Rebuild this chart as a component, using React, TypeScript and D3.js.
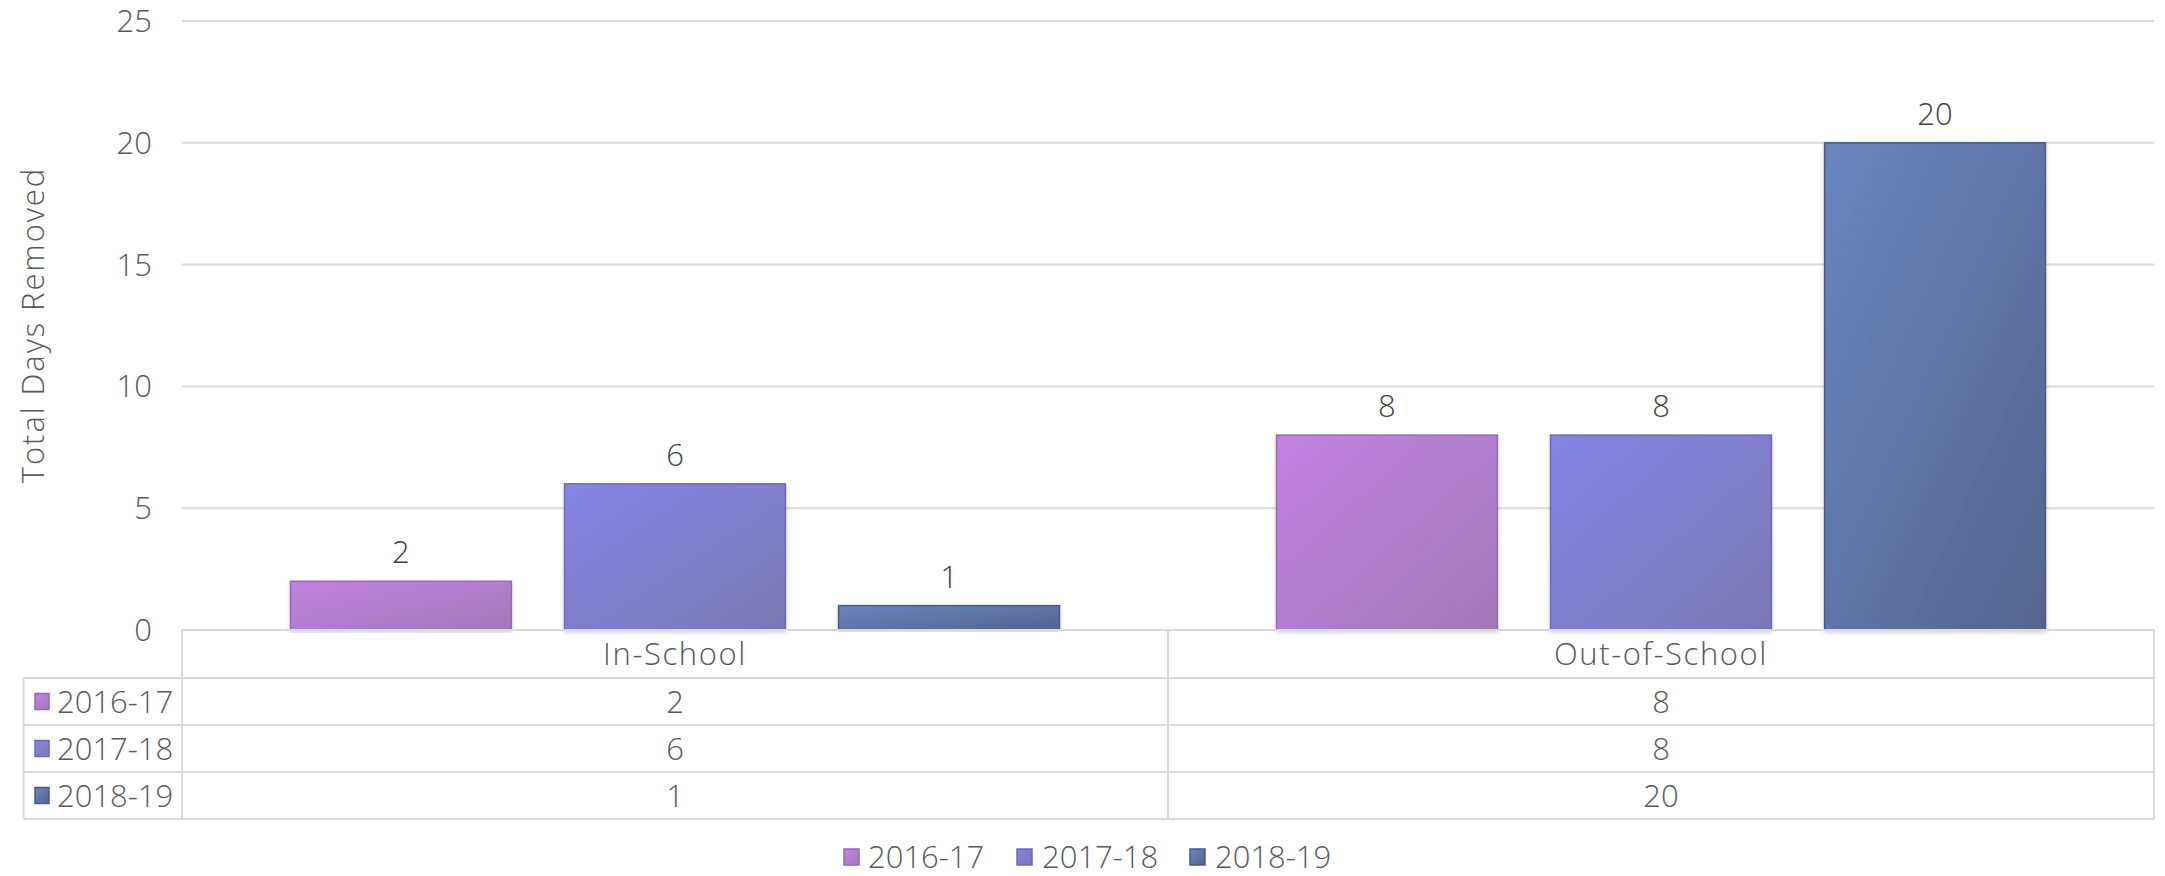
import React from "react";
import * as d3 from "d3";

const categories = ["In-School", "Out-of-School"];
const seriesNames = ["2016-17", "2017-18", "2018-19"];
const values2016 = [2, 8];
const values2017 = [6, 8];
const values2018 = [1, 20];
const yTicks = [0, 5, 10, 15, 20, 25];
const yTitle = "Total Days Removed";

const seriesValues = [values2016, values2017, values2018];
const gradStops = [
  ["#c282e4", "#a279b6"],
  ["#8684e6", "#7a78b2"],
  ["#6a86c0", "#53648c"],
];
const strokes = ["#9868b6", "#6a6ac2", "#4a5a86"];

const W = 2165;
const H = 876;
const FONT = "'Open Sans', 'DejaVu Sans', sans-serif";
const TXT = "#595959";
const GRID = "#d9d9d9";

export default function App() {
  const plotLeft = 182;
  const plotRight = 2154;
  const tableLeft = 23.5;
  const y = d3.scaleLinear().domain([0, 25]).range([630, 21]);
  const x0 = d3.scaleBand<string>().domain(categories).range([plotLeft, plotRight]);
  const x1 = d3
    .scaleBand<string>()
    .domain(seriesNames)
    .range([0, x0.bandwidth()])
    .paddingInner(0.194)
    .paddingOuter(0.396);

  const rowEdges = [630, 678, 725, 772, 819];
  const legendItems = [
    { sq: 844, tx: 868 },
    { sq: 1017, tx: 1042 },
    { sq: 1190, tx: 1215 },
  ];

  return (
    <svg
      width={W}
      height={H}
      style={{ position: "absolute", left: 0, top: 0, background: "#fff" }}
      fontFamily={FONT}
    >
      <defs>
        {gradStops.map((g, i) => (
          <linearGradient key={i} id={`g${i}`} x1="0" y1="0" x2="1" y2="1">
            <stop offset="0" stopColor={g[0]} />
            <stop offset="1" stopColor={g[1]} />
          </linearGradient>
        ))}
        <filter id="sh" x="-5%" y="-5%" width="110%" height="110%">
          <feDropShadow dx="0" dy="2" stdDeviation="2" floodColor="#000" floodOpacity="0.18" />
        </filter>
      </defs>

      {/* gridlines */}
      {yTicks.filter((t) => t > 0).map((t) => (
        <line key={t} x1={plotLeft} x2={plotRight} y1={y(t)} y2={y(t)} stroke={GRID} strokeWidth={2} />
      ))}

      {/* y tick labels */}
      {yTicks.map((t) => (
        <text key={t} x={152} y={y(t) + 11} textAnchor="end" fontSize={31} fill={TXT} fontWeight={300}>
          {t}
        </text>
      ))}

      {/* y title */}
      <text
        transform={`translate(44, ${325}) rotate(-90)`}
        textAnchor="middle"
        fontSize={31}
        fill={TXT}
        fontWeight={300}
        letterSpacing={1.9}
      >
        {yTitle}
      </text>

      {/* bars */}
      {categories.map((c, ci) =>
        seriesNames.map((s, si) => {
          const v = seriesValues[si][ci];
          const bx = (x0(c) as number) + (x1(s) as number);
          const bw = x1.bandwidth();
          const top = y(v);
          return (
            <g key={c + s}>
              <rect
                x={bx}
                y={top}
                width={bw}
                height={y(0) - top}
                fill={`url(#g${si})`}
                stroke={strokes[si]}
                strokeWidth={1.5}
                filter="url(#sh)"
              />
              <text x={bx + bw / 2} y={top - 18} textAnchor="middle" fontSize={31} fill="#404040" fontWeight={300}>
                {v}
              </text>
            </g>
          );
        })
      )}

      {/* data table */}
      <g stroke={GRID} strokeWidth={2} fill="none">
        <line x1={plotLeft} x2={plotRight} y1={rowEdges[0]} y2={rowEdges[0]} />
        {rowEdges.slice(1).map((r) => (
          <line key={r} x1={tableLeft} x2={plotRight} y1={r} y2={r} />
        ))}
        <line x1={tableLeft} x2={tableLeft} y1={rowEdges[1]} y2={rowEdges[4]} />
        <line x1={plotLeft} x2={plotLeft} y1={rowEdges[0]} y2={rowEdges[4]} />
        <line x1={x0("Out-of-School")} x2={x0("Out-of-School")} y1={rowEdges[0]} y2={rowEdges[4]} />
        <line x1={plotRight} x2={plotRight} y1={rowEdges[0]} y2={rowEdges[4]} />
      </g>

      {categories.map((c) => (
        <text
          key={c}
          x={(x0(c) as number) + x0.bandwidth() / 2}
          y={(rowEdges[0] + rowEdges[1]) / 2 + 11}
          textAnchor="middle"
          fontSize={31}
          fill={TXT}
          fontWeight={300}
          letterSpacing={1.6}
        >
          {c}
        </text>
      ))}

      {seriesNames.map((s, si) => {
        const cy = (rowEdges[si + 1] + rowEdges[si + 2]) / 2;
        return (
          <g key={s}>
            <rect x={35} y={cy - 8} width={14} height={16} fill={`url(#g${si})`} stroke={strokes[si]} strokeWidth={1.5} />
            <text x={57} y={cy + 11} fontSize={31} fill={TXT} fontWeight={300}>
              {s}
            </text>
            {categories.map((c, ci) => (
              <text
                key={c}
                x={(x0(c) as number) + x0.bandwidth() / 2}
                y={cy + 11}
                textAnchor="middle"
                fontSize={31}
                fill={TXT}
                fontWeight={300}
              >
                {seriesValues[si][ci]}
              </text>
            ))}
          </g>
        );
      })}

      {/* bottom legend */}
      {seriesNames.map((s, si) => (
        <g key={s}>
          <rect
            x={legendItems[si].sq}
            y={849}
            width={15}
            height={16}
            fill={`url(#g${si})`}
            stroke={strokes[si]}
            strokeWidth={1.5}
          />
          <text x={legendItems[si].tx} y={868} fontSize={31} fill={TXT} fontWeight={300}>
            {s}
          </text>
        </g>
      ))}
    </svg>
  );
}
